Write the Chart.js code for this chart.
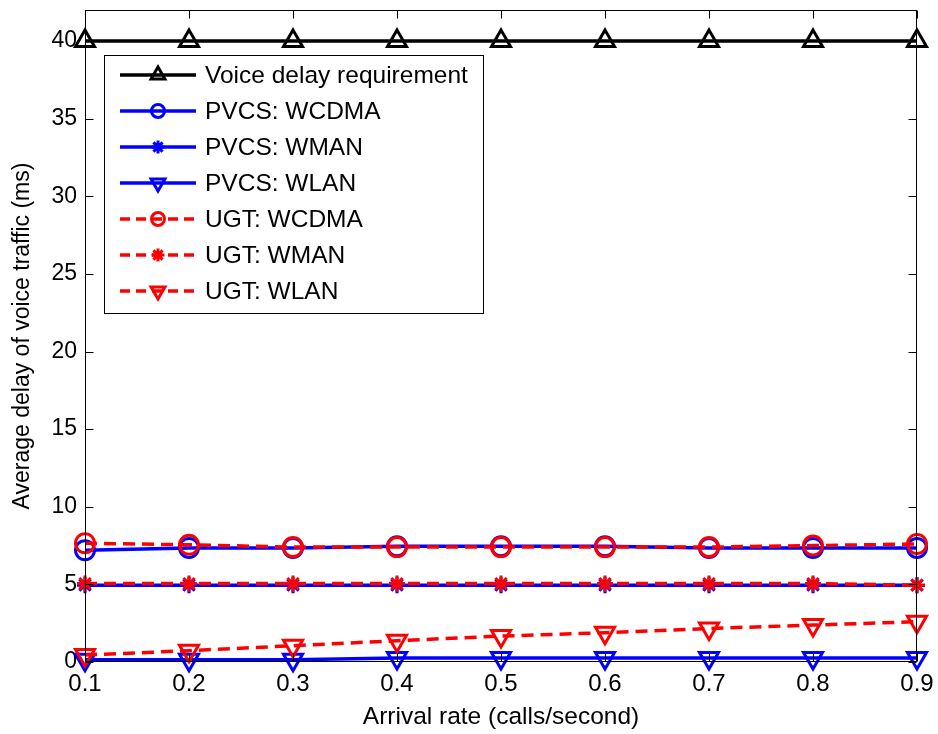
<!DOCTYPE html>
<html>
<head>
<meta charset="utf-8">
<script src="https://cdn.jsdelivr.net/npm/chart.js@4/dist/chart.umd.min.js"></script>
<style>
  html, body { margin: 0; padding: 0; background: #fff; overflow: hidden; }
  #wrap { width: 938px; height: 734px; overflow: hidden; }
  #c { display: block; margin-top: -4px; }
</style>
</head>
<body>
<div id="wrap"><canvas id="c" width="938" height="738"></canvas></div>
<script>
// ---- data ----
const arrivalRates = [0.1, 0.2, 0.3, 0.4, 0.5, 0.6, 0.7, 0.8, 0.9];
const xTickLabels = ['0.1', '0.2', '0.3', '0.4', '0.5', '0.6', '0.7', '0.8', '0.9'];
const yTickValues = [0, 5, 10, 15, 20, 25, 30, 35, 40];

const voiceRequirement = [40, 40, 40, 40, 40, 40, 40, 40, 40];
const pvcsWcdma = [7.2, 7.35, 7.35, 7.45, 7.45, 7.45, 7.35, 7.35, 7.35];
const pvcsWman  = [4.95, 4.95, 4.95, 4.95, 4.95, 4.95, 4.95, 4.95, 4.95];
const pvcsWlan  = [0.15, 0.15, 0.15, 0.25, 0.25, 0.25, 0.25, 0.25, 0.25];
const ugtWcdma  = [7.65, 7.55, 7.4, 7.4, 7.4, 7.4, 7.4, 7.5, 7.6];
const ugtWman   = [5.05, 5.05, 5.05, 5.05, 5.05, 5.05, 5.05, 5.05, 4.95];
const ugtWlan   = [0.45, 0.73, 1.05, 1.37, 1.67, 1.89, 2.16, 2.38, 2.6];

const seriesNames = [
  'Voice delay requirement',
  'PVCS: WCDMA', 'PVCS: WMAN', 'PVCS: WLAN',
  'UGT: WCDMA', 'UGT: WMAN', 'UGT: WLAN'
];

// ---- build datasets ----
const toPts = arr => arr.map((v, i) => ({ x: arrivalRates[i], y: v }));
const BLUE = '#0000ff', RED = '#ff0000', BLACK = '#000000';
const DASH = [12, 7];

function ds(label, values, color, style, dashed, order) {
  const m = {
    up:   { pointStyle: 'triangle', rotation: 0,   radius: 11, legendRadius: 8 },
    down: { pointStyle: 'triangle', rotation: 180, radius: 11, legendRadius: 8 },
    circ: { pointStyle: 'circle',   rotation: 0,   radius: 9.5, legendRadius: 6.5 },
    star: { pointStyle: 'star',     rotation: 0,   radius: 8,  legendRadius: 6.5 }
  }[style];
  return {
    label: label,
    data: toPts(values),
    borderColor: color,
    backgroundColor: color,
    borderWidth: 3.5,
    borderDash: dashed ? DASH : [],
    pointStyle: m.pointStyle,
    pointRotation: m.rotation,
    pointRadius: m.radius,
    pointHoverRadius: m.radius,
    pointBorderColor: color,
    pointBackgroundColor: style === 'star' ? color : 'rgba(0,0,0,0)',
    pointBorderWidth: 3,
    legendRadius: m.legendRadius,
    tension: 0,
    clip: false,
    order: order
  };
}

const datasets = [
  ds(seriesNames[0], voiceRequirement, BLACK, 'up',   false, 0),
  ds(seriesNames[1], pvcsWcdma,        BLUE,  'circ', false, 3),
  ds(seriesNames[2], pvcsWman,         BLUE,  'star', false, 3),
  ds(seriesNames[3], pvcsWlan,         BLUE,  'down', false, 3),
  ds(seriesNames[4], ugtWcdma,         RED,   'circ', true,  1),
  ds(seriesNames[5], ugtWman,          RED,   'star', true,  1),
  ds(seriesNames[6], ugtWlan,          RED,   'down', true,  1)
];

const FONT = 'Arial, "Liberation Sans", Helvetica, sans-serif';
const CANVAS_SHIFT = 4; // canvas is shifted up by this many px via CSS

// ---- inward ticks + box (MATLAB style) ----
const axesBoxPlugin = {
  id: 'axesBox',
  afterDatasetsDraw(chart) {
    const { ctx, chartArea: a, scales } = chart;
    const L = Math.round(a.left) + 0.5, R = Math.round(a.right) - 0.5;
    const T = Math.round(a.top) + 0.5, B = Math.round(a.bottom) - 0.5;
    ctx.save();
    ctx.strokeStyle = '#000';
    ctx.lineWidth = 1;
    ctx.setLineDash([]);
    ctx.strokeRect(L, T, R - L, B - T);
    const tl = 8;
    ctx.beginPath();
    scales.x.ticks.forEach(t => {
      const px = Math.round(scales.x.getPixelForValue(t.value)) + 0.5;
      ctx.moveTo(px, B); ctx.lineTo(px, B - tl);
      ctx.moveTo(px, T); ctx.lineTo(px, T + tl);
    });
    scales.y.ticks.forEach(t => {
      const py = Math.round(scales.y.getPixelForValue(t.value)) + 0.5;
      ctx.moveTo(L, py); ctx.lineTo(L + tl, py);
      ctx.moveTo(R, py); ctx.lineTo(R - tl, py);
    });
    ctx.stroke();
    ctx.restore();
  }
};

// ---- MATLAB-like legend inside the plot ----
const legendBoxPlugin = {
  id: 'legendBox',
  afterDraw(chart) {
    const { ctx } = chart;
    const bx = 104.5, by = 55.5 + CANVAS_SHIFT, bw = 379, bh = 258;
    const rowY0 = 75 + CANVAS_SHIFT, rowStep = 36;
    ctx.save();
    ctx.fillStyle = '#fff';
    ctx.fillRect(bx, by, bw, bh);
    ctx.strokeStyle = '#000';
    ctx.lineWidth = 1;
    ctx.setLineDash([]);
    ctx.strokeRect(bx, by, bw, bh);
    chart.data.datasets.forEach((d, i) => {
      const y = rowY0 + i * rowStep;
      ctx.save();
      ctx.strokeStyle = d.borderColor;
      ctx.lineWidth = d.borderWidth;
      ctx.setLineDash(d.borderDash && d.borderDash.length ? [10, 6] : []);
      ctx.beginPath();
      ctx.moveTo(120, y); ctx.lineTo(196, y);
      ctx.stroke();
      ctx.setLineDash([]);
      ctx.strokeStyle = d.pointBorderColor;
      ctx.fillStyle = d.pointBackgroundColor;
      ctx.lineWidth = d.pointBorderWidth;
      Chart.helpers.drawPoint(ctx, {
        pointStyle: d.pointStyle,
        rotation: d.pointRotation,
        radius: d.legendRadius,
        borderWidth: d.pointBorderWidth
      }, 158, y);
      ctx.restore();
      ctx.fillStyle = '#000';
      ctx.font = '24.5px ' + FONT;
      ctx.textAlign = 'left';
      ctx.textBaseline = 'middle';
      ctx.fillText(d.label, 205, y + 1);
    });
    ctx.restore();
  }
};

new Chart(document.getElementById('c'), {
  type: 'line',
  data: { datasets: datasets },
  options: {
    responsive: false,
    animation: false,
    devicePixelRatio: 1,
    layout: { padding: { left: 0, top: 10, right: 21, bottom: 0 } },
    plugins: {
      legend: { display: false },
      tooltip: { enabled: false },
      title: { display: false }
    },
    scales: {
      x: {
        type: 'linear',
        min: 0.1,
        max: 0.9,
        afterBuildTicks: s => { s.ticks = arrivalRates.map(v => ({ value: v })); },
        afterFit: s => { s.height = 72; s.paddingLeft = 0; s.paddingRight = 0; },
        grid: { display: false, drawTicks: false },
        border: { display: false },
        ticks: {
          autoSkip: false,
          maxRotation: 0,
          padding: 8,
          color: '#000',
          font: { family: FONT, size: 24 },
          callback: (v, i) => xTickLabels[i]
        },
        title: {
          display: true,
          text: 'Arrival rate (calls/second)',
          color: '#000',
          font: { family: FONT, size: 24.5 },
          padding: { top: 0, bottom: 2 }
        }
      },
      y: {
        type: 'linear',
        min: 0,
        max: 42,
        afterBuildTicks: s => { s.ticks = yTickValues.map(v => ({ value: v })); },
        afterFit: s => { s.width = 85; s.paddingTop = 0; s.paddingBottom = 0; },
        grid: { display: false, drawTicks: false },
        border: { display: false },
        ticks: {
          autoSkip: false,
          padding: 8,
          color: '#000',
          font: { family: FONT, size: 23, lineHeight: 0.8 },
          callback: v => String(v)
        },
        title: {
          display: true,
          text: 'Average delay of voice traffic (ms)',
          color: '#000',
          font: { family: FONT, size: 23 },
          padding: { top: 9, bottom: 0 }
        }
      }
    }
  },
  plugins: [axesBoxPlugin, legendBoxPlugin]
});
</script>
</body>
</html>
